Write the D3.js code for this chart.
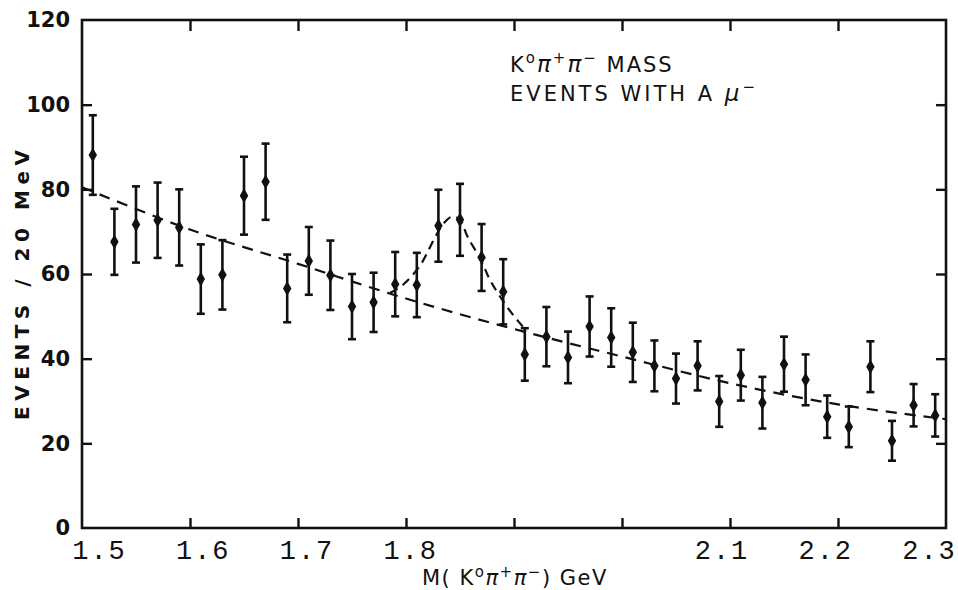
<!DOCTYPE html>
<html>
<head>
  <meta charset="UTF-8">
  <title>K0 pi+ pi- mass, events with a mu-</title>
  <script src="https://d3js.org/d3.v7.min.js"></script>
  <style>
    body { margin: 0; background: #fff; }
    svg text { fill: #111; }
  </style>
</head>
<body>
  <div id="chart"></div>
  <script>
    // bin centres (GeV), 20 MeV bins
    const massBins = [1.51, 1.53, 1.55, 1.57, 1.59, 1.61, 1.63, 1.65, 1.67, 1.69,
                      1.71, 1.73, 1.75, 1.77, 1.79, 1.81, 1.83, 1.85, 1.87, 1.89,
                      1.91, 1.93, 1.95, 1.97, 1.99, 2.01, 2.03, 2.05, 2.07, 2.09,
                      2.11, 2.13, 2.15, 2.17, 2.19, 2.21, 2.23, 2.25, 2.27, 2.29];
    const events = [88.1, 67.6, 71.7, 72.7, 71.0, 58.8, 59.8, 78.5, 81.8, 56.6,
                    63.1, 59.7, 52.3, 53.3, 57.6, 57.4, 71.4, 72.8, 63.9, 55.8,
                    41.0, 45.2, 40.3, 47.6, 45.0, 41.5, 38.3, 35.3, 38.3, 29.9,
                    36.1, 29.6, 38.7, 35.0, 26.3, 23.9, 38.1, 20.6, 29.0, 26.6];
    const errors = [9.4, 7.8, 9.0, 8.9, 9.0, 8.2, 8.2, 9.2, 9.0, 8.0,
                    8.0, 8.2, 7.7, 7.0, 7.6, 7.6, 8.5, 8.5, 7.9, 7.7,
                    6.2, 7.0, 6.1, 7.1, 6.9, 7.0, 6.0, 5.9, 5.8, 6.0,
                    6.0, 6.1, 6.5, 6.0, 5.0, 4.8, 6.0, 4.7, 5.0, 5.0];

    // dashed curves
    const backgroundMass = [1.5, 1.6, 1.7, 1.8, 1.9, 2.0, 2.1, 2.2, 2.3];
    const backgroundEvents = [80.5, 70.5, 62.4, 54.2, 47.0, 40.5, 34.2, 29.2, 25.7];
    const peakMass = [1.785, 1.797, 1.813, 1.827, 1.835, 1.843, 1.850, 1.857, 1.869, 1.878, 1.892, 1.904, 1.912];
    const peakEvents = [55.5, 57.4, 62.0, 68.7, 72.0, 73.6, 72.8, 68.8, 63.5, 58.5, 52.8, 48.8, 46.5];

    const xTicks = [1.6, 1.7, 1.8, 1.9, 2.0, 2.1, 2.2];
    const xLabels = [1.5, 1.6, 1.7, 1.8, 2.1, 2.2, 2.3];
    const yTicks = [0, 20, 40, 60, 80, 100, 120];

    const W = 958, H = 590;
    const plotLeft = 82, plotRight = 946, plotTop = 20, plotBottom = 528;

    const svg = d3.select("#chart").append("svg")
      .attr("width", W).attr("height", H);

    const x = d3.scaleLinear().domain([1.5, 2.3]).range([plotLeft, plotRight]);
    const y = d3.scaleLinear().domain([0, 120]).range([plotBottom, plotTop]);
    // typed labels sit on a slightly narrower spacing than the ticks
    const xLab = d3.scaleLinear().domain([1.5, 2.3]).range([99, 929]);

    // frame
    svg.append("rect")
      .attr("x", plotLeft).attr("y", plotTop)
      .attr("width", plotRight - plotLeft).attr("height", plotBottom - plotTop)
      .attr("fill", "none").attr("stroke", "#111").attr("stroke-width", 2.6);

    const tickStyle = g => {
      g.select(".domain").remove();
      g.selectAll(".tick line").attr("stroke", "#111").attr("stroke-width", 2.4);
    };

    // y axis (left, ticks inward)
    svg.append("g")
      .attr("transform", `translate(${plotLeft},0)`)
      .call(d3.axisLeft(y).tickValues(yTicks).tickSizeInner(-10).tickSizeOuter(0).tickPadding(12))
      .call(tickStyle)
      .call(g => g.selectAll(".tick").filter(d => d === 0 || d === 120).select("line").remove())
      .call(g => g.selectAll("text")
        .attr("font-family", "'DejaVu Sans', sans-serif")
        .attr("font-weight", "bold")
        .attr("font-size", 21)
        .attr("fill", "#111"));

    // right side ticks
    svg.append("g")
      .attr("transform", `translate(${plotRight},0)`)
      .call(d3.axisRight(y).tickValues(yTicks.slice(1, -1)).tickSizeInner(-10).tickSizeOuter(0).tickFormat(""))
      .call(tickStyle);

    // bottom and top ticks
    svg.append("g")
      .attr("transform", `translate(0,${plotBottom})`)
      .call(d3.axisBottom(x).tickValues(xTicks).tickSizeInner(-10).tickSizeOuter(0).tickFormat(""))
      .call(tickStyle);
    svg.append("g")
      .attr("transform", `translate(0,${plotTop})`)
      .call(d3.axisTop(x).tickValues(xTicks).tickSizeInner(-11).tickSizeOuter(0).tickFormat(""))
      .call(tickStyle);

    // x tick labels, typewriter style
    svg.append("g")
      .attr("transform", `translate(0,${plotBottom})`)
      .call(d3.axisBottom(xLab).tickValues(xLabels).tickSize(0).tickPadding(12).tickFormat(d3.format(".1f")))
      .call(g => g.select(".domain").remove())
      .call(g => g.selectAll("text")
        .attr("font-family", "'Liberation Mono', 'DejaVu Sans Mono', monospace")
        .attr("font-size", 27)
        .attr("letter-spacing", 2)
        .attr("fill", "#111"));

    // dashed fit curves
    const line = d3.line()
      .x(d => x(d[0])).y(d => y(d[1]))
      .curve(d3.curveCatmullRom);

    svg.append("path")
      .datum(backgroundMass.map((m, i) => [m, backgroundEvents[i]]))
      .attr("d", line)
      .attr("fill", "none").attr("stroke", "#111")
      .attr("stroke-width", 2.2).attr("stroke-dasharray", "11,8");

    svg.append("path")
      .datum(peakMass.map((m, i) => [m, peakEvents[i]]))
      .attr("d", line)
      .attr("fill", "none").attr("stroke", "#111")
      .attr("stroke-width", 2.2).attr("stroke-dasharray", "9,6");

    // data points with error bars
    const pts = massBins.map((m, i) => ({ m: m, v: events[i], e: errors[i] }));
    const cap = 4;
    const pg = svg.append("g").attr("stroke", "#111").attr("stroke-width", 2.6);

    pg.selectAll(".err").data(pts).enter().append("line")
      .attr("x1", d => x(d.m)).attr("x2", d => x(d.m))
      .attr("y1", d => y(d.v - d.e)).attr("y2", d => y(d.v + d.e));
    pg.selectAll(".capt").data(pts).enter().append("line")
      .attr("x1", d => x(d.m) - cap).attr("x2", d => x(d.m) + cap)
      .attr("y1", d => y(d.v + d.e)).attr("y2", d => y(d.v + d.e));
    pg.selectAll(".capb").data(pts).enter().append("line")
      .attr("x1", d => x(d.m) - cap).attr("x2", d => x(d.m) + cap)
      .attr("y1", d => y(d.v - d.e)).attr("y2", d => y(d.v - d.e));

    svg.selectAll(".dot").data(pts).enter().append("path")
      .attr("transform", d => `translate(${x(d.m)},${y(d.v)})`)
      .attr("d", d3.symbol(d3.symbolDiamond, 62))
      .attr("fill", "#111");

    // axis titles
    svg.append("text")
      .attr("transform", "translate(29,285) rotate(-90)")
      .attr("text-anchor", "middle")
      .attr("font-family", "'DejaVu Sans', sans-serif")
      .attr("font-weight", "bold")
      .attr("font-size", 20)
      .attr("textLength", 270)
      .attr("lengthAdjust", "spacing")
      .text("EVENTS / 20 MeV");

    const xt = svg.append("text")
      .attr("x", 422).attr("y", 585)
      .attr("font-family", "'DejaVu Sans', sans-serif")
      .attr("font-size", 21)
      .attr("letter-spacing", 1.5);
    xt.append("tspan").text("M( K");
    xt.append("tspan").attr("dy", -8).attr("font-size", 15).text("o");
    xt.append("tspan").attr("dy", 8).attr("font-style", "italic").text("π");
    xt.append("tspan").attr("dy", -8).attr("font-size", 15).text("+");
    xt.append("tspan").attr("dy", 8).attr("font-style", "italic").text("π");
    xt.append("tspan").attr("dy", -8).attr("font-size", 15).text("−");
    xt.append("tspan").attr("dy", 8).text(") GeV");

    // annotation
    const note = svg.append("g")
      .attr("font-family", "'DejaVu Sans', sans-serif")
      .attr("font-size", 21);
    const l1 = note.append("text").attr("x", 510).attr("y", 72).attr("letter-spacing", 2);
    l1.append("tspan").text("K");
    l1.append("tspan").attr("dy", -9).attr("font-size", 15).text("o");
    l1.append("tspan").attr("dy", 9).attr("font-style", "italic").attr("font-size", 23).text("π");
    l1.append("tspan").attr("dy", -9).attr("font-size", 15).text("+");
    l1.append("tspan").attr("dy", 9).attr("font-style", "italic").attr("font-size", 23).text("π");
    l1.append("tspan").attr("dy", -9).attr("font-size", 15).text("−");
    l1.append("tspan").attr("dy", 9).text(" MASS");
    const l2 = note.append("text").attr("x", 510).attr("y", 101).attr("letter-spacing", 3);
    l2.append("tspan").text("EVENTS WITH A ");
    l2.append("tspan").attr("font-style", "italic").attr("font-size", 23).text("μ");
    l2.append("tspan").attr("dy", -9).attr("font-size", 15).text("−");
  </script>
</body>
</html>
